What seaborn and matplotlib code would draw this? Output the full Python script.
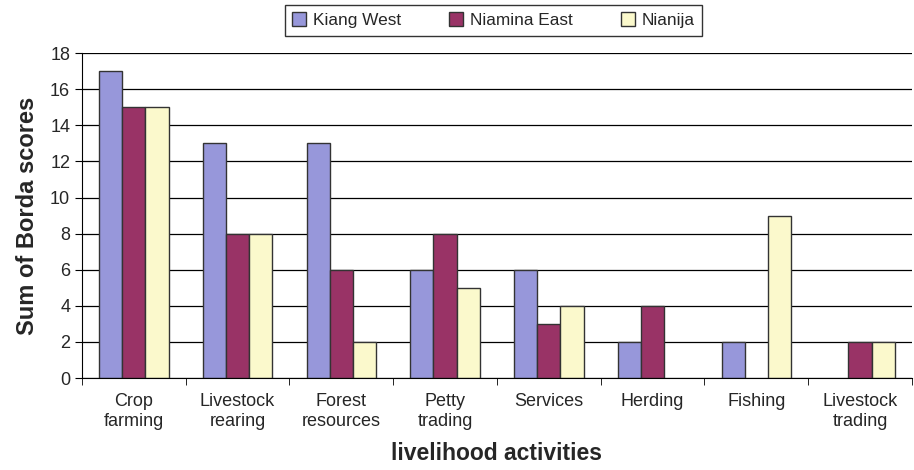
import numpy as np
import pandas as pd
import matplotlib
matplotlib.use("Agg")
import matplotlib.pyplot as plt
import seaborn as sns
from matplotlib.ticker import FixedLocator
from matplotlib.patches import Patch

categories = ["Crop\nfarming", "Livestock\nrearing", "Forest\nresources", "Petty\ntrading",
              "Services", "Herding", "Fishing", "Livestock\ntrading"]
kiang_west = [17, 13, 13, 6, 6, 2, 2, 0]
niamina_east = [15, 8, 6, 8, 3, 4, 0, 2]
nianija = [15, 8, 2, 5, 4, 0, 9, 2]
series = ["Kiang West", "Niamina East", "Nianija"]
colors = ["#9797da", "#993366", "#fbf9cc"]

df = pd.DataFrame({"activity": categories * 3,
                   "site": [s for s in series for _ in categories],
                   "score": kiang_west + niamina_east + nianija})

sns.set_style("white")
plt.rcParams['font.family'] = ['Liberation Sans', 'DejaVu Sans']

fig = plt.figure(figsize=(9.14, 4.70), dpi=100)
ax = fig.add_axes([0.0897, 0.1957, 0.908, 0.6913])
ax.set_axisbelow(True)
sns.barplot(data=df, x="activity", y="score", hue="site", palette=colors,
            width=0.67, gap=0, edgecolor="#333333", linewidth=1.0, saturation=1,
            legend=False, ax=ax)
# zero-valued bars are not drawn in the original
for p in ax.patches:
    if p.get_height() == 0:
        p.set_visible(False)

ax.set_ylim(0, 18)
ax.set_xlim(-0.5, 7.5)
ax.set_yticks(np.arange(0, 19, 2))
ax.yaxis.grid(True, color="black", linewidth=0.9)
ax.xaxis.grid(False)
for s in ["top", "right"]:
    ax.spines[s].set_visible(False)
ax.spines["left"].set_color("black")
ax.spines["bottom"].set_color("black")
ax.tick_params(axis="y", left=True, length=5, labelsize=13, color="black")
ax.tick_params(axis="x", which="major", length=0, labelsize=13, pad=11)
ax.xaxis.set_minor_locator(FixedLocator(np.arange(-0.5, 8, 1)))
ax.tick_params(axis="x", which="minor", bottom=True, length=5, color="black")

ax.set_ylabel("Sum of Borda scores", fontsize=17, fontweight="bold", labelpad=8)
ax.set_xlabel("livelihood activities", fontsize=16.5, fontweight="bold", labelpad=9)

handles = [Patch(facecolor=c, edgecolor="#333333", linewidth=1.0) for c in colors]
leg = fig.legend(handles, series, loc="center", bbox_to_anchor=(0.54, 0.957), ncol=3,
                 fontsize=12.4, frameon=True, fancybox=False, edgecolor="black",
                 handlelength=0.8, handleheight=0.8, columnspacing=2.8,
                 handletextpad=0.4, borderpad=0.45)
leg.get_frame().set_linewidth(1.0)

fig.savefig("out.png", dpi=100)
